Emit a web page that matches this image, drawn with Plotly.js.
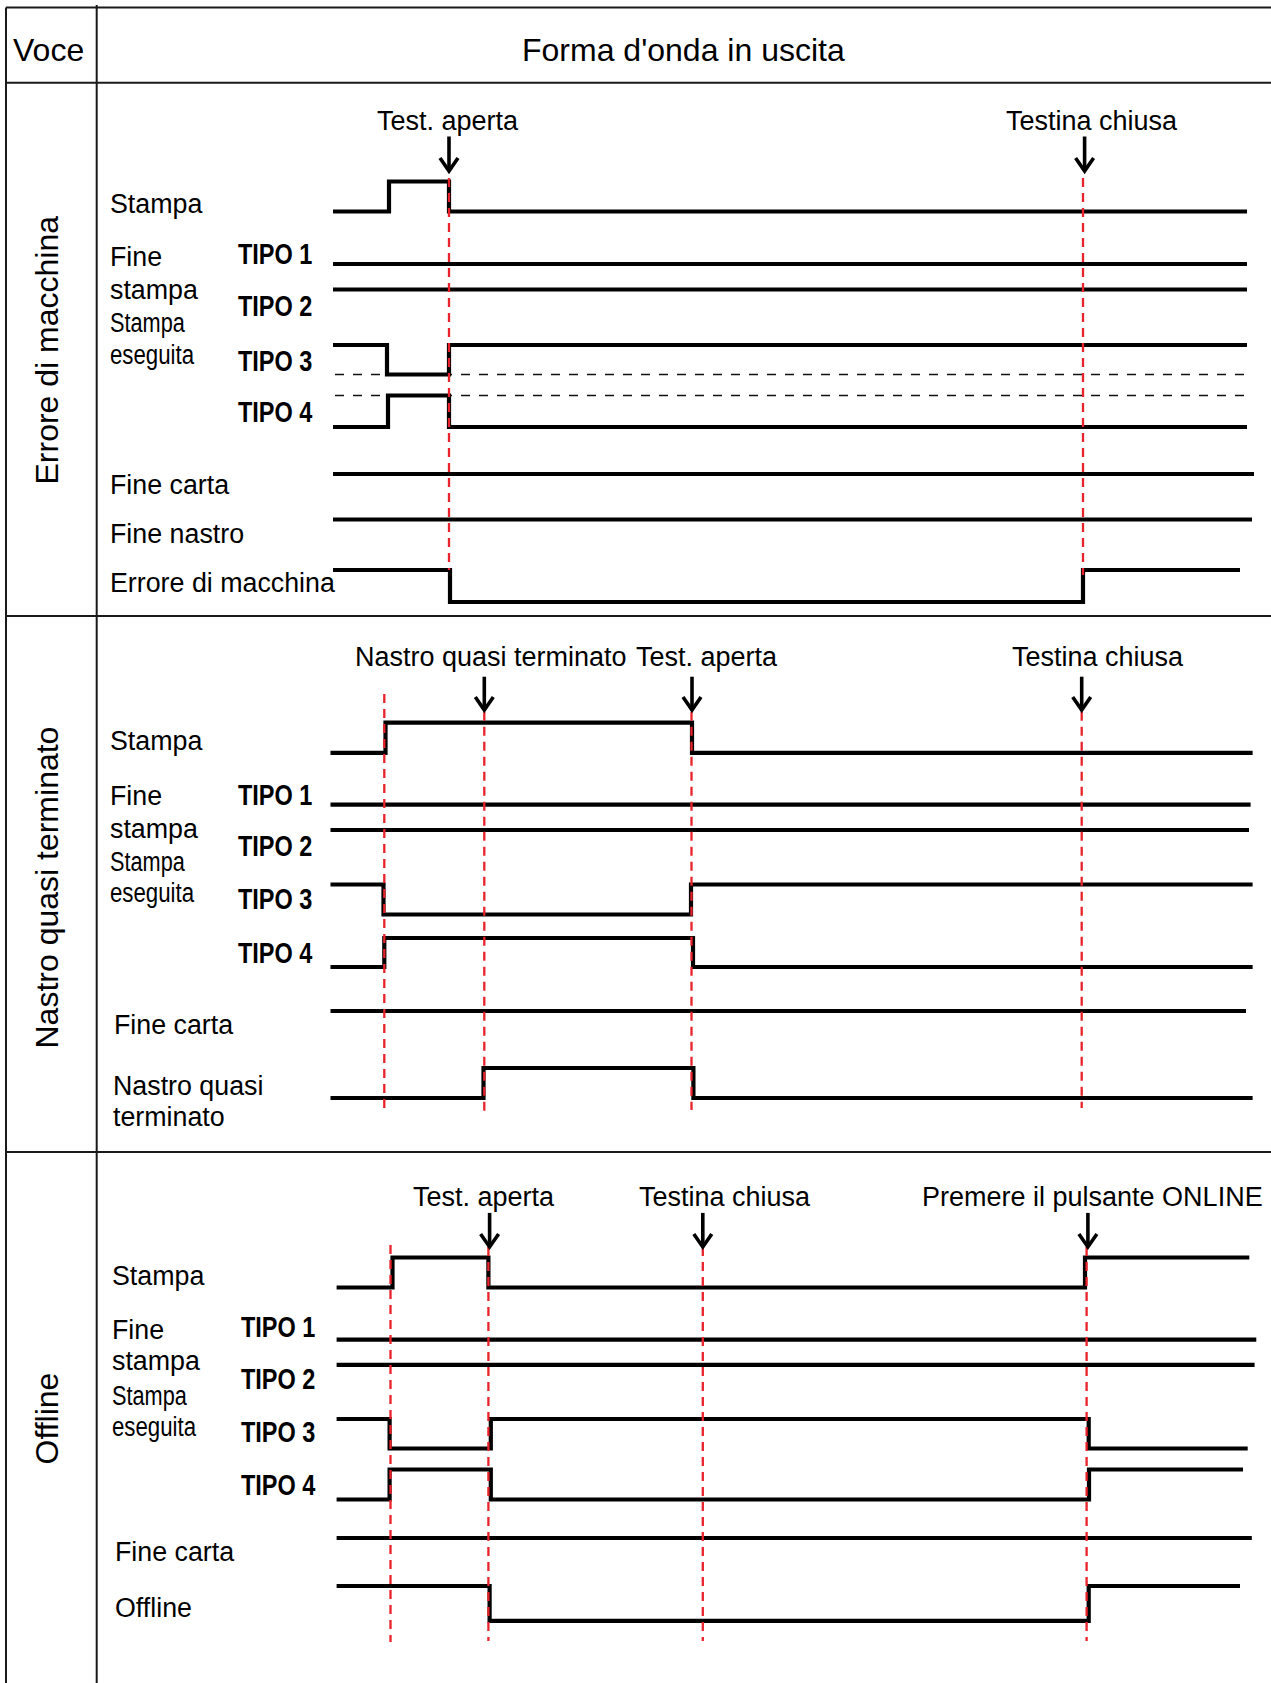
<!DOCTYPE html>
<html>
<head>
<meta charset="utf-8">
<script src="https://cdn.plot.ly/plotly-3.0.1.min.js"></script>
<style>
html,body{margin:0;padding:0;background:#fff;}
#chart{width:1271px;height:1683px;}
</style>
</head>
<body>
<div id="chart"></div>
<script>
// ================= DATA =================
const headerLabels = ["Voce", "Forma d'onda in uscita"];
const sectionTitles = ["Errore di macchina", "Nastro quasi terminato", "Offline"];
const groupLabelA = ["Fine", "stampa"];
const groupLabelB = ["Stampa", "eseguita"];

// --- Section 1: Errore di macchina ---
const s1Signals = ["Stampa", "TIPO 1", "TIPO 2", "TIPO 3", "TIPO 4", "Fine carta", "Fine nastro", "Errore di macchina"];
const s1Times = [
  [333, 389, 449, 1247],
  [333, 1247],
  [333, 1247],
  [333, 387, 449, 1247],
  [333, 388, 449, 1247],
  [333, 1254],
  [333, 1252],
  [333, 450, 1083, 1240]
];
const s1Levels = [
  [0, 1, 0, 0],
  [0, 0],
  [0, 0],
  [1, 0, 1, 1],
  [0, 1, 0, 0],
  [0, 0],
  [0, 0],
  [1, 0, 1, 1]
];
const s1Events = ["Test. aperta", "Testina chiusa"];
const s1EventTimes = [449, 1084.6];
const s1MarkerTimes = [449, 1083];
const s1RefLineTimes = [335, 1249];

// --- Section 2: Nastro quasi terminato ---
const s2Signals = ["Stampa", "TIPO 1", "TIPO 2", "TIPO 3", "TIPO 4", "Fine carta", "Nastro quasi terminato"];
const s2Times = [
  [330.5, 385.5, 692, 1252.6],
  [330.5, 1250.6],
  [330.5, 1249],
  [330.5, 383.5, 691, 1252.6],
  [330.5, 384.3, 693, 1252.6],
  [330.5, 1246],
  [330.5, 483.5, 693.4, 1252.6]
];
const s2Levels = [
  [0, 1, 0, 0],
  [0, 0],
  [0, 0],
  [1, 0, 1, 1],
  [0, 1, 0, 0],
  [0, 0],
  [0, 1, 0, 0]
];
const s2Events = ["Nastro quasi terminato", "Test. aperta", "Testina chiusa"];
const s2EventTimes = [484.3, 692, 1081.7];
const s2MarkerTimes = [384.3, 484.3, 691.5, 1081.7];

// --- Section 3: Offline ---
const s3Signals = ["Stampa", "TIPO 1", "TIPO 2", "TIPO 3", "TIPO 4", "Fine carta", "Offline"];
const s3Times = [
  [336.6, 392.5, 488.4, 1085, 1249.3],
  [336.6, 1256.3],
  [336.6, 1254.6],
  [336.6, 389.6, 490.8, 1088.7, 1247.7],
  [336.6, 389.6, 490.8, 1089, 1243],
  [336.6, 1251.8],
  [336.6, 489.6, 1088.7, 1240]
];
const s3Levels = [
  [0, 1, 0, 1, 1],
  [0, 0],
  [0, 0],
  [1, 0, 1, 0, 0],
  [0, 1, 0, 1, 1],
  [0, 0],
  [1, 0, 1, 1]
];
const s3Events = ["Test. aperta", "Testina chiusa", "Premere il pulsante ONLINE"];
const s3EventTimes = [489.6, 702.8, 1087.9];
const s3MarkerTimes = [390.5, 488.4, 702.8, 1086.6];

// ================= GEOMETRY / STYLE =================
const W = 1271, H = 1683;
const BLACK = '#000000';
const RED = '#e8232b';
const FONT = 'Liberation Sans, Arial, Helvetica, sans-serif';
const SIG_W = 4.2;
const LBL = 26.8;   // row label size
const EVT = 27;     // event label size
const HDR = 32;     // header / section title size

const sec1Geo = {
  rowLow:  [211.5, 264, 289.5, 374.5, 427, 474, 519.5, 602],
  rowHigh: [181.5, 264, 289.5, 345, 395.5, 474, 519.5, 570],
  markerTop: [178, 178], markerBottom: [570, 575],
  arrowTop: 136.5, arrowTip: 171, eventLabelX: [448, 1092], eventLabelY: 121,
  plainRows: [0, 5, 6, 7], plainX: [109, 109, 109, 109], plainY: [203.6, 485.4, 534, 583],
  tipoRows: [1, 2, 3, 4], tipoX: 237, tipoY: [254, 306, 360.5, 412],
  groupX: 109, groupY: [257, 290, 323, 355]
};
const sec2Geo = {
  rowLow:  [752.8, 804.7, 830, 914.5, 967, 1011, 1098],
  rowHigh: [722.6, 804.7, 830, 884.5, 938, 1011, 1068],
  markerTop: [694, 711.7, 711.7, 711.7], markerBottom: [1111, 1111, 1110, 1108],
  arrowTop: 676.7, arrowTip: 710, eventLabelX: [491, 707, 1097.6], eventLabelY: 656.7,
  plainRows: [0, 5, 6], plainX: [109, 113, 112], plainY: [740.5, 1025, 1086],
  tipoRows: [1, 2, 3, 4], tipoX: 237, tipoY: [795, 845.7, 899.4, 953],
  groupX: 109, groupY: [796, 829, 862, 893]
};
const sec3Geo = {
  rowLow:  [1287.5, 1339.7, 1364.8, 1448.5, 1499.5, 1538, 1620.8],
  rowHigh: [1257.5, 1339.7, 1364.8, 1419, 1469.5, 1538, 1586],
  markerTop: [1245, 1247, 1247, 1247], markerBottom: [1642, 1641, 1641, 1641],
  arrowTop: 1212.9, arrowTip: 1246.9, eventLabelX: [483.5, 725, 1092], eventLabelY: 1197,
  plainRows: [0, 5, 6], plainX: [111.4, 114, 114], plainY: [1276.4, 1552, 1608],
  tipoRows: [1, 2, 3, 4], tipoX: 239.5, tipoY: [1327.4, 1379.4, 1432, 1484.8],
  groupX: 111.4, groupY: [1329.5, 1361, 1396, 1427]
};

const traces = [];
const annotations = [];
const condensed = [];   // [annotation index, horizontal factor]

function txt(text, x, y, size, xanchor, extra, squeeze) {
  annotations.push(Object.assign({
    text: text, x: x, y: y, xref: 'x', yref: 'y', showarrow: false,
    xanchor: xanchor || 'left', yanchor: 'middle',
    align: (xanchor === 'center') ? 'center' : 'left',
    borderpad: 0,
    font: {family: FONT, size: size || LBL, color: BLACK}
  }, extra || {}));
  if (squeeze) condensed.push([annotations.length - 1, squeeze]);
}

function addSection(names, times, levels, events, eventTimes, markerTimes, g, extraLabels) {
  names.forEach((nm, i) => {
    traces.push({
      type: 'scatter', mode: 'lines', name: nm,
      x: times[i],
      y: levels[i].map(v => v ? g.rowHigh[i] : g.rowLow[i]),
      line: {color: BLACK, width: SIG_W, shape: 'hv'},
      hoverinfo: 'skip'
    });
  });
  markerTimes.forEach((t, k) => {
    traces.push({
      type: 'scatter', mode: 'lines', x: [t, t], y: [g.markerTop[k], g.markerBottom[k]],
      line: {color: RED, width: 2.3, dash: '9px,6px'}, hoverinfo: 'skip'
    });
  });
  eventTimes.forEach((t, k) => {
    traces.push({
      type: 'scatter', mode: 'lines',
      x: [t, t, null, t - 9, t, t + 9],
      y: [g.arrowTop, g.arrowTip, null, g.arrowTip - 13, g.arrowTip, g.arrowTip - 13],
      line: {color: BLACK, width: 3.6}, hoverinfo: 'skip'
    });
    txt(events[k], g.eventLabelX[k], g.eventLabelY, EVT, 'center');
  });
  g.plainRows.forEach((r, k) => {
    if (extraLabels && extraLabels[r]) {
      extraLabels[r].forEach((line, j) => txt(line, g.plainX[k], g.plainY[k] + j * 31, LBL));
    } else {
      txt(names[r], g.plainX[k], g.plainY[k], LBL);
    }
  });
  g.tipoRows.forEach((r, k) => {
    txt('<b>' + names[r] + '</b>', g.tipoX, g.tipoY[k], 29, 'left', null, 0.81);
  });
  txt(groupLabelA[0], g.groupX, g.groupY[0], LBL);
  txt(groupLabelA[1], g.groupX, g.groupY[1], LBL);
  txt(groupLabelB[0], g.groupX, g.groupY[2], LBL, 'left', null, 0.81);
  txt(groupLabelB[1], g.groupX, g.groupY[3], LBL, 'left', null, 0.83);
}

// section-1 thin black dashed reference lines (TIPO 3 low / TIPO 4 high)
[sec1Geo.rowLow[3], sec1Geo.rowHigh[4]].forEach(yy => {
  traces.push({
    type: 'scatter', mode: 'lines', x: s1RefLineTimes, y: [yy, yy],
    line: {color: '#111', width: 1.4, dash: '9px,9px'}, hoverinfo: 'skip'
  });
});

addSection(s1Signals, s1Times, s1Levels, s1Events, s1EventTimes, s1MarkerTimes, sec1Geo, null);
addSection(s2Signals, s2Times, s2Levels, s2Events, s2EventTimes, s2MarkerTimes, sec2Geo, {6: ["Nastro quasi", "terminato"]});
addSection(s3Signals, s3Times, s3Levels, s3Events, s3EventTimes, s3MarkerTimes, sec3Geo, null);

// header + section titles
txt(headerLabels[0], 48, 50, HDR, 'center');
txt(headerLabels[1], 683, 50, HDR, 'center');
const sectionCenters = [350, 888, 1419];
sectionTitles.forEach((s, i) => txt(s, 46.5, sectionCenters[i], HDR, 'center', {textangle: -90}));

// table grid
const gridLine = {color: '#1a1a1a', width: 2};
const shapes = [
  {type: 'line', xref: 'x', yref: 'y', x0: 6, x1: W, y0: 7.5, y1: 7.5, line: gridLine},
  {type: 'line', xref: 'x', yref: 'y', x0: 6, x1: W, y0: 82.7, y1: 82.7, line: gridLine},
  {type: 'line', xref: 'x', yref: 'y', x0: 6, x1: W, y0: 616, y1: 616, line: gridLine},
  {type: 'line', xref: 'x', yref: 'y', x0: 6, x1: W, y0: 1152, y1: 1152, line: gridLine},
  {type: 'line', xref: 'x', yref: 'y', x0: 6, x1: 6, y0: 7.5, y1: H, line: gridLine},
  {type: 'line', xref: 'x', yref: 'y', x0: 96.7, x1: 96.7, y0: 5, y1: H, line: gridLine}
];

const layout = {
  width: W, height: H,
  margin: {l: 0, r: 0, t: 0, b: 0, pad: 0},
  paper_bgcolor: '#ffffff', plot_bgcolor: '#ffffff',
  showlegend: false,
  xaxis: {range: [0, W], visible: false, fixedrange: true},
  yaxis: {range: [H, 0], visible: false, fixedrange: true},
  shapes: shapes,
  annotations: annotations
};

Plotly.newPlot('chart', traces, layout, {staticPlot: true, displayModeBar: false}).then(gd => {
  // emulate the condensed (narrow) typeface of some labels
  condensed.forEach(([idx, f]) => {
    const t = gd.querySelector('.annotation[data-index="' + idx + '"] text.annotation-text');
    if (!t) return;
    const len = t.getComputedTextLength();
    t.setAttribute('textLength', (len * f).toFixed(1));
    t.setAttribute('lengthAdjust', 'spacingAndGlyphs');
    t.setAttribute('text-anchor', 'start');
  });
});
</script>
</body>
</html>
